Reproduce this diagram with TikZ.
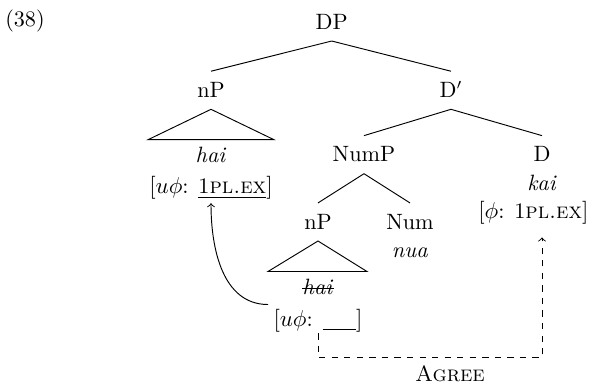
\documentclass[tikz,border=0pt]{standalone}
\usetikzlibrary{calc}
\begin{document}
\begin{tikzpicture}[x=0.478pt,y=-0.478pt,
  font=\fontsize{10.6}{12.7}\selectfont,
  lab/.style={inner xsep=0pt,inner ysep=3.4pt,text height=9pt,text depth=2pt,anchor=base},
  txt/.style={inner sep=0pt,anchor=base},
  feat/.style={inner sep=0pt,text height=7.5pt,text depth=3pt,anchor=base},
  edge/.style={line width=0.45pt},
  >=to]
\useasboundingbox (0,0) rectangle (592,387);
% example number
\node[txt] (num) at (25,26.7) {(38)};
% tree labels
\node[lab] (DP) at (331.7,29.3) {DP};
\node[lab] (nP1) at (211,97.6) {nP};
\node[lab] (Dbar) at (451,97.6) {D$'$};
\node[txt] (hai1) at (211,163) {\textit{hai}};
\node[feat] (feat1) at (211,194) {$[u\phi$: \underline{1\textsc{pl.ex}}$]$};
\node[lab] (NumP) at (364,162) {NumP};
\node[lab] (D) at (542,162) {D};
\node[txt] (kai) at (542,191) {\textit{kai}};
\node[feat,anchor=base east] (feat2) at (589,219) {$[\phi$: 1\textsc{pl.ex}$]$};
\node[lab] (nP2) at (318,229.3) {nP};
\node[lab] (Num) at (410,229.3) {Num};
\node[txt] (nua) at (410,257.3) {\textit{nua}};
\node[txt] (hai2) at (318,295) {\textit{hai}};
\node[feat] (feat3) at (318,326.7) {$[u\phi$: \underline{\hspace{16pt}}$]$};
\node[txt] (agree) at (450,381.7) {\textsc{Agree}};
% branches
\draw[edge] (DP.south) -- (nP1.north);
\draw[edge] (DP.south) -- (Dbar.north);
\draw[edge] (Dbar.south) -- (NumP.north);
\draw[edge] (Dbar.south) -- (D.north);
\draw[edge] (NumP.south) -- (nP2.north);
\draw[edge] (NumP.south) -- (Num.north);
% triangles
\draw[edge] (nP1.south) -- ++(-63,30.4) -- ++(126,0) -- cycle;
\draw[edge] (nP2.south) -- ++(-50,30.5) -- ++(99,0) -- cycle;
% strike-through
\draw[line width=0.5pt] ([yshift=3.1pt]hai2.base west) -- ([yshift=3.1pt]hai2.base east);
% movement arrow
\draw[edge,->] ([xshift=-2.4pt,yshift=2.9pt]feat3.north west) to[out=180,in=-90] ([yshift=-1.2pt]feat1.south);
% agree arrow
\draw[edge,dashed,->,shorten >=5.6pt] (feat3.south) -- ++(0,24) -| (D |- feat2.south);
\end{tikzpicture}
\end{document}
